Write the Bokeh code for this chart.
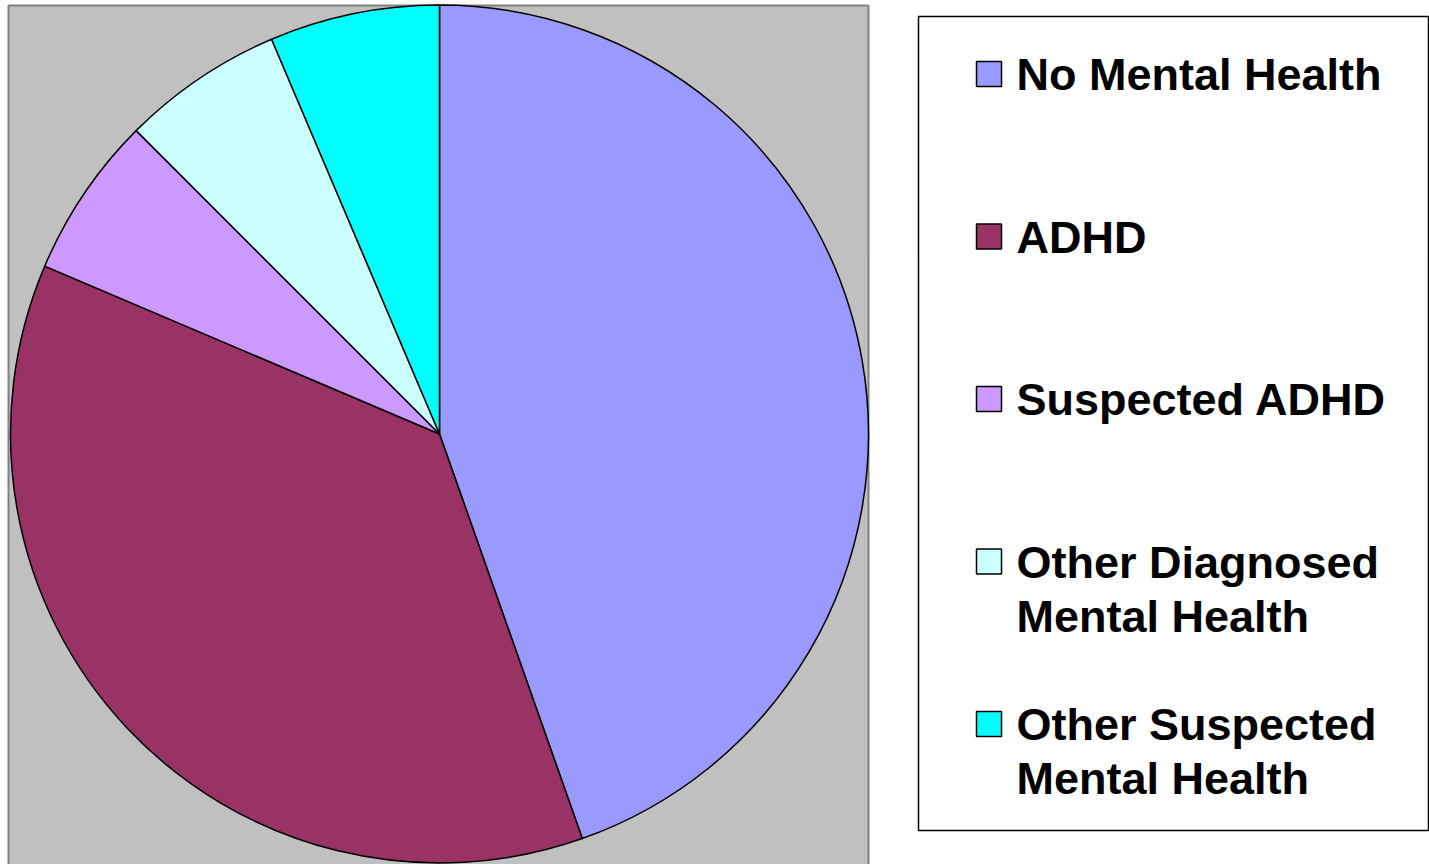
import numpy as np
from bokeh.plotting import figure
from bokeh.models import Range1d, ColumnDataSource
from bokeh.core.properties import value
from bokeh.embed import file_html
from bokeh.resources import INLINE

# ---- data (percent of respondents) ----
categories = ["No Mental Health", "ADHD", "Suspected ADHD",
              "Other Diagnosed\nMental Health", "Other Suspected\nMental Health"]
percent = [44.6, 36.8, 6.1, 6.1, 6.4]
colors = ["#9999FF", "#993366", "#CC99FF", "#CCFFFF", "#00FFFF"]

# ---- layout (pixel-like data coords) ----
W, H = 1429, 864
TOP = 864  # data_y = TOP - screen_y

p = figure(width=W, height=H, x_range=Range1d(0, W), y_range=Range1d(0, H),
           output_backend="svg", toolbar_location=None, min_border=0,
           background_fill_color="white", border_fill_color="white")
p.axis.visible = False
p.xgrid.visible = False
p.ygrid.visible = False
p.outline_line_color = None

# plot area (grey)
p.quad(left=8, right=868, bottom=-3, top=TOP - 5, fill_color="#C0C0C0",
       line_color="#808080", line_width=2)

# pie
vals = np.array(percent, dtype=float)
frac = vals / vals.sum()
cum = np.concatenate([[0], np.cumsum(frac)])
start = np.pi / 2 - 2 * np.pi * cum[:-1]
end = np.pi / 2 - 2 * np.pi * cum[1:]
src = ColumnDataSource(dict(start=start, end=end, color=colors, cat=categories))
cx, cy, R = 439, TOP - 433.5, 429
p.wedge(x=cx, y=cy, radius=R, start_angle="start", end_angle="end",
        direction="clock", fill_color="color", line_color="black",
        line_width=1.5, source=src)

# legend box
p.quad(left=918, right=1428, bottom=TOP - 830, top=TOP - 16,
       fill_color="white", line_color="black", line_width=1.5)

row_gap = 162.5
sq_y = [TOP - (73.5 + i * row_gap) for i in range(len(categories))]
p.rect(x=[988.5] * len(categories), y=sq_y, width=25, height=25,
       fill_color=colors, line_color="black", line_width=1.5)

tx, ty, tt = [], [], []
for i, lab in enumerate(categories):
    base = 74 + i * row_gap
    for j, line in enumerate(lab.split("\n")):
        tx.append(1016)
        ty.append(TOP - (base + j * 54))
        tt.append(line)
p.text(x=tx, y=ty, text=tt, text_font=value("Liberation Sans"),
       text_font_style="bold", text_font_size="45px", text_color="black",
       text_baseline="alphabetic", text_align="left")

open("out.html", "w").write(file_html(p, INLINE))
